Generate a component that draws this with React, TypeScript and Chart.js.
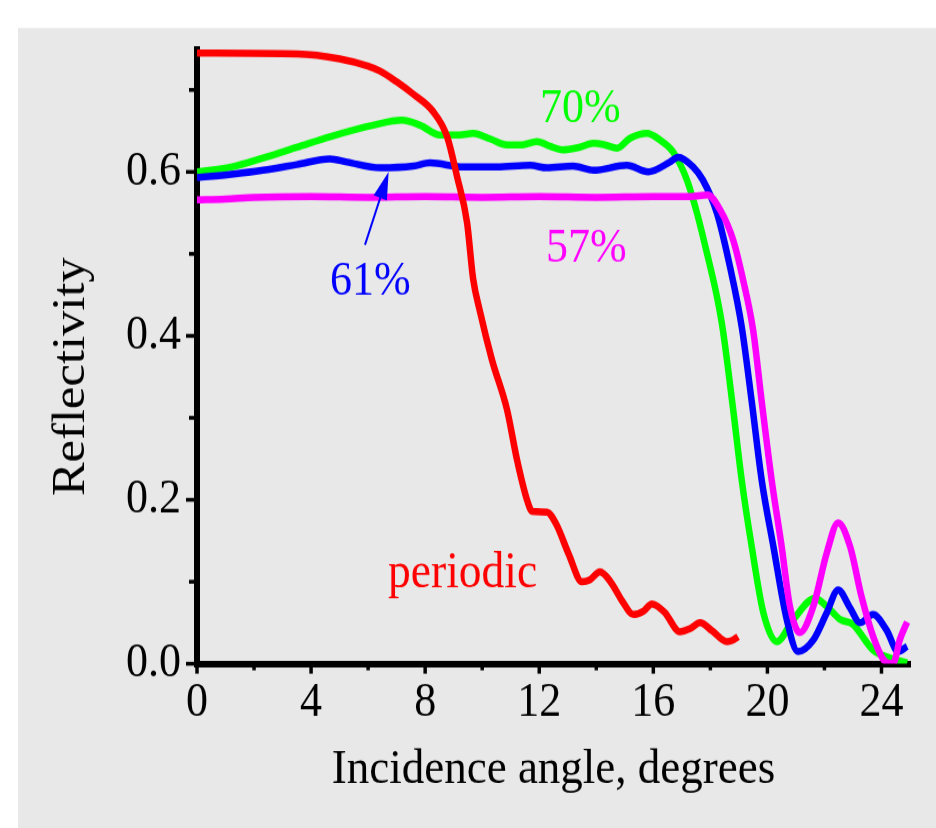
import React, { useEffect, useRef } from 'react';
import { Chart, registerables } from 'chart.js';

Chart.register(...registerables);

// ---- data ----
const periodicX = [0, 3.5, 5.0, 6.0, 6.42, 7.0, 7.58, 8.27, 8.77, 9.12, 9.47, 9.68, 9.92, 10.34, 10.87, 11.22, 11.57, 11.75, 12.27, 12.6, 13.03, 13.5, 13.76, 14.13, 14.5, 14.92, 15.3, 15.65, 15.95, 16.39, 16.93, 17.3, 17.64, 18.07, 18.58, 18.8, 18.97];
const periodicY = [0.745, 0.744, 0.738, 0.729, 0.723, 0.71, 0.695, 0.674, 0.643, 0.594, 0.538, 0.47, 0.43, 0.371, 0.31, 0.249, 0.2, 0.186, 0.185, 0.17, 0.134, 0.1, 0.102, 0.112, 0.1, 0.076, 0.06, 0.064, 0.073, 0.063, 0.039, 0.043, 0.05, 0.04, 0.027, 0.029, 0.033];

const g70X = [0, 1.2, 2.32, 3.5, 4.66, 6.17, 7.19, 7.82, 8.52, 9.2, 9.68, 10.3, 10.87, 11.4, 11.92, 12.4, 12.8, 13.4, 13.9, 14.3, 14.73, 15.18, 15.78, 16.23, 16.7, 17.18, 17.53, 17.88, 18.23, 18.44, 18.8, 19.1, 19.45, 19.86, 20.33, 20.91, 21.67, 22.08, 22.55, 23.0, 23.7, 24.3, 24.9];
const g70Y = [0.6, 0.606, 0.617, 0.63, 0.643, 0.657, 0.663, 0.657, 0.645, 0.645, 0.647, 0.64, 0.633, 0.633, 0.637, 0.631, 0.627, 0.63, 0.635, 0.633, 0.629, 0.641, 0.647, 0.639, 0.624, 0.59, 0.55, 0.501, 0.448, 0.407, 0.31, 0.224, 0.143, 0.062, 0.027, 0.054, 0.08, 0.07, 0.054, 0.048, 0.017, 0.007, 0.001];

const b61X = [0, 1.2, 2.32, 3.5, 4.66, 5.26, 6.42, 7.58, 8.17, 9.33, 10.52, 11.68, 12.27, 13.18, 13.9, 15.07, 15.82, 16.58, 16.87, 17.4, 17.74, 18.23, 18.69, 19.1, 19.45, 19.8, 20.21, 20.68, 21.07, 21.61, 22.08, 22.48, 22.9, 23.25, 23.7, 24.18, 24.58, 24.9];
const b61Y = [0.593, 0.597, 0.602, 0.609, 0.616, 0.612, 0.605, 0.607, 0.611, 0.606, 0.606, 0.608, 0.605, 0.607, 0.602, 0.608, 0.6, 0.612, 0.618, 0.606, 0.59, 0.55, 0.484, 0.411, 0.32, 0.224, 0.143, 0.054, 0.015, 0.029, 0.062, 0.09, 0.068, 0.05, 0.06, 0.041, 0.015, 0.021];

const m57X = [0, 1, 2, 4, 6, 8, 10, 12, 14, 16, 17.3, 17.9, 18.34, 18.8, 19.15, 19.5, 19.8, 20.15, 20.5, 20.79, 21.14, 21.61, 22.08, 22.48, 22.9, 23.3, 23.71, 24.12, 24.4, 24.65, 24.9];
const m57Y = [0.566, 0.567, 0.569, 0.57, 0.569, 0.57, 0.569, 0.57, 0.569, 0.57, 0.57, 0.572, 0.554, 0.517, 0.468, 0.407, 0.32, 0.224, 0.143, 0.07, 0.038, 0.07, 0.135, 0.172, 0.143, 0.082, 0.033, 0.003, 0.0, 0.03, 0.051];

const seriesNames = ['periodic', '70%', '61%', '57%'];
const seriesColors = ['#ff0000', '#00ff00', '#0000ff', '#ff00ff'];

const xTitle = 'Incidence angle, degrees';
const yTitle = 'Reflectivity';

const FONT = "'Liberation Serif', 'Times New Roman', Times, serif";

// the reference picture is stretched vertically; the canvas is drawn shorter and scaled
const STRETCH = 1.1;
const W = 936;
const H = Math.round(828 / STRETCH);

export default function App() {
  const ref = useRef<HTMLCanvasElement>(null);

  useEffect(() => {
    const canvas = ref.current;
    if (!canvas) return;
    const pts = (xs: number[], ys: number[]) => xs.map((x, i) => ({ x, y: ys[i] }));
    const allX = [periodicX, g70X, b61X, m57X];
    const allY = [periodicY, g70Y, b61Y, m57Y];
    const order = [0, 3, 2, 1];

    const bgPlugin = {
      id: 'bg',
      beforeDraw(chart: any) {
        const { ctx, width, height } = chart;
        ctx.save();
        ctx.fillStyle = '#ffffff';
        ctx.fillRect(0, 0, width, height);
        ctx.fillStyle = '#e8e8e8';
        ctx.fillRect(18, 25.5, width - 18, height - 25.5);
        ctx.restore();
      },
    };

    const tickPlugin = {
      id: 'tickMarks',
      afterDraw(chart: any) {
        const { ctx } = chart;
        const xs = chart.scales.x;
        const ys = chart.scales.y;
        const area = chart.chartArea;
        ctx.save();
        ctx.strokeStyle = '#000';
        ctx.lineWidth = 3.5;
        ctx.lineCap = 'butt';
        for (const t of xs.ticks) {
          const px = xs.getPixelForValue(t.value);
          const major = Math.round(t.value) % 4 === 0;
          ctx.beginPath();
          ctx.moveTo(px, area.bottom);
          ctx.lineTo(px, area.bottom + (major ? 9 : 6));
          ctx.stroke();
        }
        for (const t of ys.ticks) {
          const py = ys.getPixelForValue(t.value);
          const major = Math.round(t.value * 10) % 2 === 0;
          ctx.beginPath();
          ctx.moveTo(area.left, py);
          ctx.lineTo(area.left - (major ? 11 : 8), py);
          ctx.stroke();
        }
        // y axis title (rotated)
        ctx.fillStyle = '#000';
        ctx.font = `46px ${FONT}`;
        ctx.textAlign = 'center';
        ctx.textBaseline = 'middle';
        ctx.translate(72, 342.5);
        ctx.rotate(-Math.PI / 2);
        ctx.fillText(yTitle, 0, 0);
        ctx.restore();
      },
    };

    const annotPlugin = {
      id: 'annot',
      afterDatasetsDraw(chart: any) {
        const { ctx } = chart;
        const xs = chart.scales.x;
        const ys = chart.scales.y;
        const X = (v: number) => xs.getPixelForValue(v);
        const Y = (v: number) => ys.getPixelForValue(v);
        ctx.save();
        ctx.textAlign = 'left';
        ctx.textBaseline = 'alphabetic';
        const label = (text: string, color: string, dx: number, dy: number, size: number) => {
          ctx.font = `${size}px ${FONT}`;
          ctx.fillStyle = color;
          ctx.fillText(text, X(dx), Y(dy));
        };
        label(seriesNames[1], seriesColors[1], 12.03, 0.661, 44);
        label(seriesNames[2], seriesColors[2], 4.66, 0.45, 44);
        label(seriesNames[3], seriesColors[3], 12.24, 0.491, 44);
        label(seriesNames[0], seriesColors[0], 6.7, 0.094, 45.5);

        // arrow pointing to the 61% curve
        const x0 = X(5.89), y0 = Y(0.511);
        const x1 = X(6.72), y1 = Y(0.6);
        const ang = Math.atan2(y1 - y0, x1 - x0);
        ctx.strokeStyle = seriesColors[2];
        ctx.fillStyle = seriesColors[2];
        ctx.lineWidth = 2;
        ctx.beginPath();
        ctx.moveTo(x0, y0);
        ctx.lineTo(x1 - Math.cos(ang) * 18, y1 - Math.sin(ang) * 18);
        ctx.stroke();
        const hl = 25, hw = 7;
        const bx = x1 - Math.cos(ang) * hl, by = y1 - Math.sin(ang) * hl;
        ctx.beginPath();
        ctx.moveTo(x1, y1);
        ctx.lineTo(bx + Math.sin(ang) * hw, by - Math.cos(ang) * hw);
        ctx.lineTo(bx - Math.sin(ang) * hw, by + Math.cos(ang) * hw);
        ctx.closePath();
        ctx.fill();
        ctx.restore();
      },
    };

    const chart = new Chart(canvas, {
      type: 'line',
      data: {
        datasets: order.map((i) => ({
          label: seriesNames[i],
          data: pts(allX[i], allY[i]),
          borderColor: seriesColors[i],
          backgroundColor: seriesColors[i],
          borderWidth: 6.5,
          pointRadius: 0,
          fill: false,
          cubicInterpolationMode: 'monotone' as const,
        })),
      },
      options: {
        responsive: false,
        animation: false,
        devicePixelRatio: 1,
        parsing: false as any,
        layout: { padding: { top: 44.5, right: 26, left: 0, bottom: 0 } },
        plugins: { legend: { display: false }, tooltip: { enabled: false } },
        scales: {
          x: {
            type: 'linear',
            min: 0,
            max: 25,
            afterFit: (s: any) => { s.height = H - 603.6; },
            border: { display: true, color: '#000', width: 6 },
            grid: { display: true, drawOnChartArea: false, drawTicks: true, tickLength: 9, color: 'rgba(0,0,0,0)' },
            ticks: {
              stepSize: 2,
              includeBounds: false,
              autoSkip: false,
              maxRotation: 0,
              padding: 0,
              color: '#000',
              font: { family: FONT, size: 44 },
              callback: (v: any) => (Math.round(v) % 4 === 0 ? String(v) : ''),
            },
            title: {
              display: true,
              text: xTitle,
              color: '#000',
              font: { family: FONT, size: 45 },
              padding: { top: 0, bottom: 26 },
            },
          },
          y: {
            type: 'linear',
            min: 0,
            max: 0.75,
            afterFit: (s: any) => { s.width = 197; },
            border: { display: true, color: '#000', width: 6 },
            grid: { display: true, drawOnChartArea: false, drawTicks: true, tickLength: 11, color: 'rgba(0,0,0,0)' },
            ticks: {
              stepSize: 0.1,
              includeBounds: false,
              autoSkip: false,
              padding: 5,
              color: '#000',
              font: { family: FONT, size: 44 },
              callback: (v: any) => (Math.round(v * 10) % 2 === 0 ? Number(v).toFixed(1) : ''),
            },
            title: { display: false, text: yTitle },
          },
        },
      },
      plugins: [bgPlugin, tickPlugin, annotPlugin],
    });

    return () => chart.destroy();
  }, []);

  return (
    <div style={{ position: 'fixed', left: 0, top: 0, width: 936, height: 828, background: '#fff', overflow: 'hidden' }}>
      <div style={{ transform: `scale(1, ${828 / H})`, transformOrigin: '0 0', width: W, height: H }}>
        <canvas ref={ref} width={W} height={H} style={{ display: 'block', width: W, height: H }} />
      </div>
    </div>
  );
}
